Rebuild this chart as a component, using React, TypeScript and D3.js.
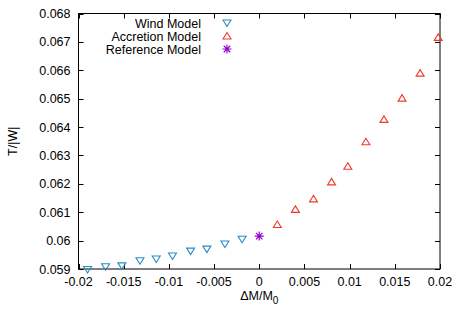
import React, { useRef, useEffect } from "react";
import * as d3 from "d3";

// wind model (mass loss)
const windDM = [-0.019, -0.017, -0.0152, -0.0132, -0.0114, -0.0096, -0.0076, -0.0058, -0.0038, -0.0019];
const windTW = [0.05898, 0.05908, 0.05911, 0.05929, 0.05935, 0.05946, 0.05963, 0.0597, 0.05988, 0.06005];

// accretion model (mass gain)
const accDM = [0.002, 0.004, 0.006, 0.008, 0.0098, 0.0118, 0.0138, 0.0158, 0.0178, 0.0198];
const accTW = [0.06057, 0.0611, 0.06147, 0.06207, 0.06262, 0.06348, 0.06427, 0.06502, 0.0659, 0.06716];

// reference model
const refDM = [0];
const refTW = [0.06016];

const xTicks = [-0.02, -0.015, -0.01, -0.005, 0, 0.005, 0.01, 0.015, 0.02];
const yTicks = [0.059, 0.06, 0.061, 0.062, 0.063, 0.064, 0.065, 0.066, 0.067, 0.068];

const legendLabels = ["Wind Model", "Accretion Model", "Reference Model"];

const BLUE = "#2a8bc4";
const RED = "#ee3a2e";
const PURPLE = "#9400d3";

const App: React.FC = () => {
  const ref = useRef<SVGSVGElement | null>(null);

  useEffect(() => {
    document.body.style.margin = "0";
    const svg = d3.select(ref.current);
    svg.selectAll("*").remove();

    const width = 463;
    const height = 324;
    const left = 78.5;
    const right = 440;
    const top = 13.5;
    const bottom = 269;
    const font = "'Liberation Sans', Arial, sans-serif";

    svg.attr("width", width).attr("height", height);
    svg.append("rect").attr("width", width).attr("height", height).attr("fill", "#fff");

    const x = d3.scaleLinear().domain([-0.02, 0.02]).range([left, right]);
    const y = d3.scaleLinear().domain([0.059, 0.068]).range([bottom, top]);

    const tickLen = 5;
    const g = svg.append("g").attr("stroke", "#000").attr("stroke-width", 1);

    // ticks (mirrored)
    xTicks.forEach((t) => {
      const px = Math.round(x(t)) + 0.5;
      g.append("line").attr("x1", px).attr("x2", px).attr("y1", bottom).attr("y2", bottom - tickLen);
      g.append("line").attr("x1", px).attr("x2", px).attr("y1", top).attr("y2", top + tickLen);
    });
    yTicks.forEach((t) => {
      const py = Math.round(y(t)) + 0.5;
      g.append("line").attr("x1", left).attr("x2", left + tickLen).attr("y1", py).attr("y2", py);
      g.append("line").attr("x1", right).attr("x2", right - tickLen).attr("y1", py).attr("y2", py);
    });

    // frame
    g.append("rect")
      .attr("x", left)
      .attr("y", top)
      .attr("width", right - left)
      .attr("height", bottom - top)
      .attr("fill", "none");

    // tick labels
    svg
      .append("g")
      .selectAll("text")
      .data(xTicks)
      .enter()
      .append("text")
      .attr("x", (d) => x(d))
      .attr("y", bottom + 17)
      .attr("text-anchor", "middle")
      .attr("font-family", font)
      .attr("font-size", 12.5)
      .text((d) => (d === 0 ? "0" : String(d)));

    svg
      .append("g")
      .selectAll("text")
      .data(yTicks)
      .enter()
      .append("text")
      .attr("x", left - 8)
      .attr("y", (d) => y(d) + 4.5)
      .attr("text-anchor", "end")
      .attr("font-family", font)
      .attr("font-size", 12.5)
      .text((d) => String(+d.toFixed(3)));

    // axis titles
    const xl = svg
      .append("text")
      .attr("x", (left + right) / 2)
      .attr("y", 299.5)
      .attr("text-anchor", "middle")
      .attr("font-family", font)
      .attr("font-size", 12.5);
    xl.append("tspan").text("ΔM/M");
    xl.append("tspan").attr("dy", 4.5).attr("font-size", 10).text("0");

    svg
      .append("text")
      .attr("transform", `translate(17, ${(top + bottom) / 2}) rotate(-90)`)
      .attr("text-anchor", "middle")
      .attr("font-family", font)
      .attr("font-size", 12.5)
      .text("T/|W|");

    // markers
    const dtri = (cx: number, cy: number) =>
      `M${cx - 4},${cy - 3}L${cx + 4},${cy - 3}L${cx},${cy + 3.5}Z`;
    const utri = (cx: number, cy: number) =>
      `M${cx - 4},${cy + 3}L${cx + 4},${cy + 3}L${cx},${cy - 3.5}Z`;
    const star = (cx: number, cy: number) => {
      const r = 4.5;
      const d = r * 0.72;
      return `M${cx - r},${cy}L${cx + r},${cy}M${cx},${cy - r}L${cx},${cy + r}` +
        `M${cx - d},${cy - d}L${cx + d},${cy + d}M${cx - d},${cy + d}L${cx + d},${cy - d}`;
    };

    const pts = svg.append("g").attr("fill", "none").attr("stroke-width", 1.1);
    windDM.forEach((v, i) => {
      pts.append("path").attr("d", dtri(x(v), y(windTW[i]))).attr("stroke", BLUE);
    });
    accDM.forEach((v, i) => {
      pts.append("path").attr("d", utri(x(v), y(accTW[i]))).attr("stroke", RED);
    });
    refDM.forEach((v, i) => {
      pts.append("path").attr("d", star(x(v), y(refTW[i]))).attr("stroke", PURPLE).attr("stroke-width", 1.2);
    });

    // legend
    const markers = [dtri, utri, star];
    const colors = [BLUE, RED, PURPLE];
    legendLabels.forEach((lab, i) => {
      const ly = 23 + i * 13;
      svg
        .append("text")
        .attr("x", 201)
        .attr("y", ly + 4.5)
        .attr("text-anchor", "end")
        .attr("font-family", font)
        .attr("font-size", 12.5)
        .text(lab);
      pts.append("path").attr("d", markers[i](227, ly)).attr("stroke", colors[i]);
    });
  }, []);

  return <svg ref={ref} style={{ display: "block" }}></svg>;
};

export default App;
